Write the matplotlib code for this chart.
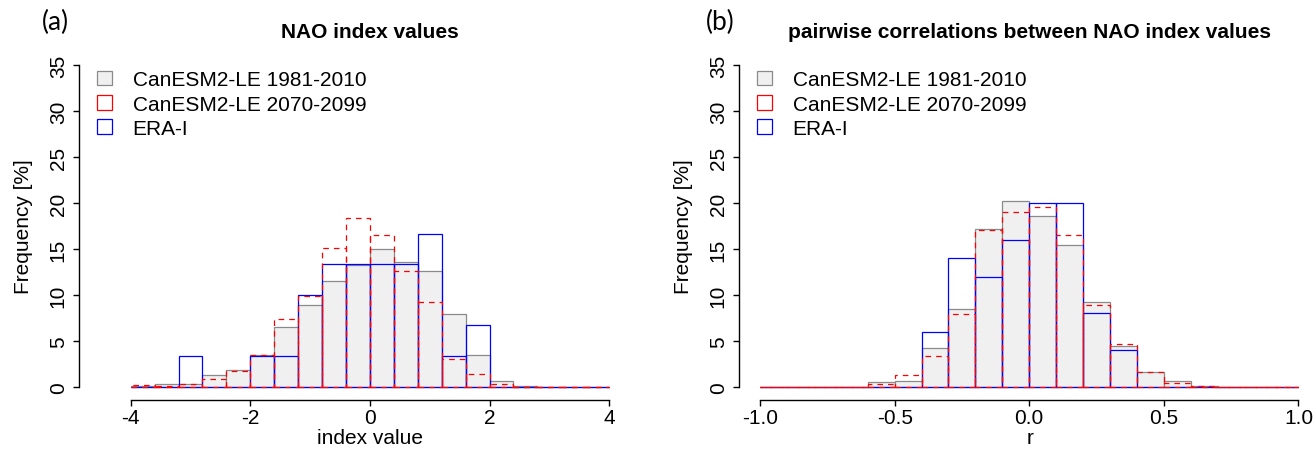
import numpy as np
import matplotlib
matplotlib.use("Agg")
import matplotlib.pyplot as plt
from matplotlib.patches import Patch

# ---------------- data ----------------
# panel (a): NAO index values, bins of width 0.4 from -4 to 4
nao_edges_start = -4.0
nao_bin_width = 0.4
nao_hist_1981 = [0.05, 0.3, 0.3, 1.28, 1.8, 3.4, 6.45, 8.86, 11.56, 13.3,
                 15.0, 13.57, 12.58, 7.88, 3.46, 0.66, 0.1, 0.0, 0.0, 0.0]
nao_hist_2070 = [0.18, 0.1, 0.25, 0.88, 1.7, 3.5, 7.4, 9.85, 15.1, 18.38,
                 16.48, 12.58, 9.23, 3.06, 1.42, 0.33, 0.0, 0.0, 0.0, 0.0]
nao_hist_era = [0.0, 0.0, 3.33, 0.0, 0.0, 3.33, 3.33, 10.0, 13.33, 13.33,
                13.33, 13.33, 16.67, 3.33, 6.67, 0.0, 0.0, 0.0, 0.0, 0.0]

# panel (b): pairwise correlations, bins of width 0.1 from -1 to 1
cor_edges_start = -1.0
cor_bin_width = 0.1
cor_hist_1981 = [0.0, 0.0, 0.0, 0.0, 0.47, 0.58, 4.16, 8.46, 17.14, 20.2,
                 18.6, 15.43, 9.19, 4.38, 1.64, 0.62, 0.07, 0.0, 0.0, 0.0]
cor_hist_2070 = [0.0, 0.0, 0.0, 0.0, 0.26, 1.28, 3.36, 7.88, 17.07, 19.0,
                 19.55, 16.56, 8.86, 4.63, 1.64, 0.4, 0.1, 0.0, 0.0, 0.0]
cor_hist_era = [0.0, 0.0, 0.0, 0.0, 0.0, 0.0, 6.0, 14.0, 12.0, 16.0,
                20.0, 20.0, 8.0, 4.0, 0.0, 0.0, 0.0, 0.0, 0.0, 0.0]

legend_labels = ["CanESM2-LE 1981-2010", "CanESM2-LE 2070-2099", "ERA-I"]
titles = ["NAO index values", "pairwise correlations between NAO index values"]
panel_tags = ["(a)", "(b)"]
xlabels = ["index value", "r"]
ylabel = "Frequency [%]"
yticks = [0, 5, 10, 15, 20, 25, 30, 35]
xticks_a = [-4, -2, 0, 2, 4]
xticks_b = [-1.0, -0.5, 0.0, 0.5, 1.0]
xticklabels_b = ["-1.0", "-0.5", "0.0", "0.5", "1.0"]

# ---------------- style ----------------
plt.rcParams['font.family'] = ['Liberation Sans', 'DejaVu Sans']
FS = 15
GRAY_FILL = '#f0f0f0'
GRAY_EDGE = '#8a8a8a'
RED = '#ff0000'
BLUE = '#0000ff'
LW = 0.9

W, H = 1315, 452
fig = plt.figure(figsize=(W / 100, H / 100), dpi=100)

def px_axes(left, right, top, bottom):
    return [left / W, 1 - bottom / H, (right - left) / W, (bottom - top) / H]

axA = fig.add_axes(px_axes(79.3, 660.0, 53.0, 401.0))
axB = fig.add_axes(px_axes(739.3, 1320.0, 53.0, 401.0))

def draw_panel(ax, start, width, h1, h2, h3, xlim, xticks, xticklabels,
               title, tag, xlabel):
    n = len(h1)
    lefts = start + width * np.arange(n)
    ax.bar(lefts, h1, width=width, align='edge', color=GRAY_FILL,
           edgecolor=GRAY_EDGE, linewidth=LW, zorder=1)
    ax.bar(lefts, h3, width=width, align='edge', fill=False,
           edgecolor=BLUE, linewidth=LW, zorder=2)
    ax.bar(lefts, h2, width=width, align='edge', fill=False,
           edgecolor=RED, linewidth=LW, linestyle=(0, (4.5, 4)), zorder=3)
    ax.set_xlim(*xlim)
    ax.set_ylim(-1.45, 36.45)
    for s in ['top', 'right']:
        ax.spines[s].set_visible(False)
    ax.spines['left'].set_bounds(0, 35)
    ax.spines['bottom'].set_bounds(xticks[0], xticks[-1])
    for s in ['left', 'bottom']:
        ax.spines[s].set_linewidth(1.0)
    ax.set_xticks(xticks)
    ax.set_xticklabels(xticklabels, fontsize=FS)
    ax.set_yticks(yticks)
    ax.set_yticklabels([str(v) for v in yticks], fontsize=FS,
                       rotation=90, va='center')
    ax.tick_params(axis='both', direction='out', length=4.3, width=1.0)
    ax.tick_params(axis='x', pad=1.5)
    ax.tick_params(axis='y', pad=4.0)
    ax.set_xlabel(xlabel, fontsize=FS, labelpad=1)
    ax.set_ylabel(ylabel, fontsize=FS, labelpad=11.5)
    ax.text(0.5, 1 + 21 / 348, title, transform=ax.transAxes, ha='center',
            va='center', fontsize=FS, fontweight='bold')
    handles = [Patch(facecolor=GRAY_FILL, edgecolor=GRAY_EDGE, linewidth=LW),
               Patch(facecolor='white', edgecolor=RED, linewidth=LW),
               Patch(facecolor='white', edgecolor=BLUE, linewidth=LW)]
    ax.legend(handles, legend_labels, loc='upper left',
              bbox_to_anchor=(0.03, 0.947), frameon=False, fontsize=FS,
              handlelength=0.72, handleheight=0.7, handletextpad=1.0,
              labelspacing=0.25, borderpad=0, borderaxespad=0)

draw_panel(axA, nao_edges_start, nao_bin_width, nao_hist_1981, nao_hist_2070,
           nao_hist_era, (-4.86, 4.85), xticks_a, [str(v) for v in xticks_a],
           titles[0], panel_tags[0], xlabels[0])
draw_panel(axB, cor_edges_start, cor_bin_width, cor_hist_1981, cor_hist_2070,
           cor_hist_era, (-1.077, 1.080), xticks_b, xticklabels_b,
           titles[1], panel_tags[1], xlabels[1])

fig.text(55 / W, 1 - 22 / H, panel_tags[0], ha='center', va='center',
         fontsize=19, family=['Lato', 'DejaVu Sans'])
fig.text(720 / W, 1 - 22 / H, panel_tags[1], ha='center', va='center',
         fontsize=19, family=['Lato', 'DejaVu Sans'])

fig.savefig('out.png', dpi=100)
